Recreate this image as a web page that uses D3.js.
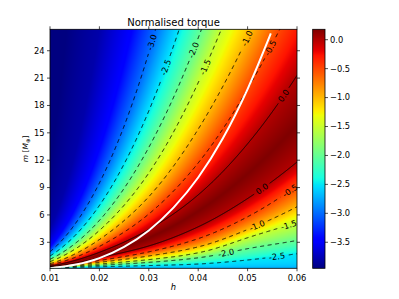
<!DOCTYPE html>
<html>
<head>
<meta charset="utf-8">
<script src="https://cdn.jsdelivr.net/npm/d3@7"></script>
<style>
  body { margin: 0; background: #fff; }
  text { font-family: "DejaVu Sans", sans-serif; }
</style>
</head>
<body>
<div id="plotContainer"></div>
<script>
const hCols = [0.01, 0.02, 0.03, 0.04, 0.05, 0.06];

// above the ridge: m [M_earth] at which torque passes each level
const upperLevels = [0.0, -0.5, -1.0, -1.5, -2.0, -2.5, -3.0, -3.5, -3.8, -3.95];
const upperM = [
  [0.40, 1.90, 4.40, 8.20, 13.8, 21.3],
  [0.52, 2.55, 6.10, 11.7, 19.8, 30.3],
  [0.66, 3.30, 8.00, 15.4, 25.5, 38.5],
  [0.88, 4.30, 10.6, 20.5, 34.0, 51.4],
  [1.14, 5.40, 13.4, 25.4, 41.8, 63.0],
  [1.50, 7.04, 17.4, 33.0, 54.3, 81.5],
  [1.97, 9.50, 23.8, 45.9, 76.0, 115],
  [2.60, 13.9, 37.2, 74.4, 127, 197],
  [4.50, 26.4, 74, 154, 270, 430],
  [12, 80, 230, 480, 850, 1350]
];

// below the ridge
const lowerLevels = [0.0, -0.5, -1.0, -1.5, -2.0, -2.5, -2.8];
const lowerM = [
  [0.30, 1.30, 2.60, 4.70, 7.80, 11.8],
  [0.27, 1.00, 1.95, 3.40, 5.80, 9.2],
  [0.245, 0.80, 1.50, 2.50, 4.40, 6.9],
  [0.22, 0.62, 1.10, 1.85, 3.50, 5.2],
  [0.20, 0.47, 0.80, 1.30, 2.30, 3.2],
  [0.18, 0.32, 0.45, 0.62, 1.06, 1.75],
  [0.15, 0.17, 0.13, 0.10, 0.10, 0.10]
];

// ridge of maximum torque
const ridgeM = [0.34, 1.60, 3.50, 6.40, 10.5, 15.9];
const ridgeT = [0.12, 0.18, 0.18, 0.18, 0.18, 0.18];

// white curve
const whiteH = [0.01, 0.015, 0.02, 0.025, 0.03, 0.035, 0.04, 0.045, 0.05, 0.0547];
const whiteM = [0.16, 0.53, 1.27, 2.5, 4.3, 6.8, 10.1, 14.4, 19.8, 25.9];

// drawn contours and where their labels sit (h)
const upperContours = [-3.0, -2.5, -2.0, -1.5, -1.0, -0.5, 0.0];
const upperLabelH = [0.03061, 0.03345, 0.03905, 0.04142, 0.04987, 0.05459, 0.05729];
const lowerContours = [-2.5, -2.0, -1.5, -1.0, -0.5, 0.0];
const lowerLabelH = [0.05595, 0.04567, 0.0583, 0.0519, 0.0586, 0.0529];

const xTicks = [0.01, 0.02, 0.03, 0.04, 0.05, 0.06];
const yTicks = [3, 6, 9, 12, 15, 18, 21, 24];
const cbTicks = [0.0, -0.5, -1.0, -1.5, -2.0, -2.5, -3.0, -3.5];
const vmin = -3.95, vmax = 0.18;

const W = 399, H = 299;
const plot = {left: 50, right: 297, top: 29.3, bottom: 268.3};

const svg = d3.select("#plotContainer").append("svg")
    .attr("width", W).attr("height", H);

const x = d3.scaleLinear().domain([0.01, 0.06]).range([plot.left, plot.right]);
const y = d3.scaleLinear().domain([0.15, 26.35]).range([plot.bottom, plot.top]);

// matplotlib jet
const jetR = d3.scaleLinear().domain([0, 0.35, 0.66, 0.89, 1]).range([0, 0, 1, 1, 0.5]).clamp(true);
const jetG = d3.scaleLinear().domain([0, 0.125, 0.375, 0.64, 0.91, 1]).range([0, 0, 1, 1, 0, 0]).clamp(true);
const jetB = d3.scaleLinear().domain([0, 0.11, 0.34, 0.65, 1]).range([0.5, 1, 1, 0, 0]).clamp(true);
const norm = d3.scaleLinear().domain([vmin, vmax]).range([0, 1]).clamp(true);
function jet(t) { return [jetR(t) * 255, jetG(t) * 255, jetB(t) * 255]; }

// smooth curve through the columns, in log-log space
function makeCurve(ms) {
  const xs = hCols.map(Math.log), ys = ms.map(Math.log), n = xs.length;
  const d = [];
  for (let i = 0; i < n - 1; i++) d.push((ys[i + 1] - ys[i]) / (xs[i + 1] - xs[i]));
  const tg = xs.map((_, i) => i === 0 ? d[0] : i === n - 1 ? d[n - 2] : (d[i - 1] + d[i]) / 2);
  return function(h) {
    const xv = Math.log(h);
    let i = d3.bisectRight(xs, xv) - 1;
    i = Math.max(0, Math.min(n - 2, i));
    const dx = xs[i + 1] - xs[i], t = (xv - xs[i]) / dx, t2 = t * t, t3 = t2 * t;
    return Math.exp((2 * t3 - 3 * t2 + 1) * ys[i] + (t3 - 2 * t2 + t) * dx * tg[i]
      + (-2 * t3 + 3 * t2) * ys[i + 1] + (t3 - t2) * dx * tg[i + 1]);
  };
}
const upperCurves = upperM.map(makeCurve);
const lowerCurves = lowerM.map(makeCurve);
const ridgeCurve = makeCurve(ridgeM);
const ridgeVal = d3.scaleLinear().domain(hCols).range(ridgeT);

function knotsAt(h) {
  const k = [];
  for (let i = lowerLevels.length - 1; i >= 0; i--) k.push([lowerCurves[i](h), lowerLevels[i]]);
  k.push([ridgeCurve(h), ridgeVal(h)]);
  upperLevels.forEach((t, i) => k.push([upperCurves[i](h), t]));
  for (let i = 1; i < k.length; i++) k[i][0] = Math.max(k[i][0], k[i - 1][0] * 1.0001);
  return k.map(d => [Math.log(d[0]), d[1]]);
}
function valueAt(k, m) {
  const lm = Math.log(m);
  if (lm <= k[0][0]) return k[0][1];
  for (let i = 1; i < k.length; i++) {
    if (lm <= k[i][0]) {
      const f = (lm - k[i - 1][0]) / (k[i][0] - k[i - 1][0]);
      return k[i - 1][1] + f * (k[i][1] - k[i - 1][1]);
    }
  }
  return k[k.length - 1][1];
}

// heat map
const pw = Math.round(plot.right - plot.left), ph = Math.round(plot.bottom - plot.top);
const canvas = document.createElement("canvas");
canvas.width = pw; canvas.height = ph;
const ctx = canvas.getContext("2d");
const img = ctx.createImageData(pw, ph);
for (let px = 0; px < pw; px++) {
  const h = x.invert(plot.left + px + 0.5);
  const k = knotsAt(h);
  for (let py = 0; py < ph; py++) {
    const m = y.invert(plot.top + py + 0.5);
    const c = jet(norm(valueAt(k, m)));
    const o = (py * pw + px) * 4;
    img.data[o] = c[0]; img.data[o + 1] = c[1]; img.data[o + 2] = c[2]; img.data[o + 3] = 255;
  }
}
ctx.putImageData(img, 0, 0);
svg.append("image")
    .attr("x", plot.left).attr("y", plot.top)
    .attr("width", pw).attr("height", ph)
    .attr("preserveAspectRatio", "none")
    .attr("href", canvas.toDataURL());

svg.append("clipPath").attr("id", "clip")
  .append("rect")
    .attr("x", plot.left).attr("y", plot.top)
    .attr("width", plot.right - plot.left).attr("height", plot.bottom - plot.top);

const gLines = svg.append("g").attr("clip-path", "url(#clip)");
const gLabels = svg.append("g");

function drawContour(curve, level, labelH) {
  const pts = d3.range(0, 1201).map(i => {
    const h = 0.01 + 0.05 * i / 1200;
    return [x(h), y(curve(h))];
  }).filter(p => p[1] > plot.top - 40);
  const lp = [x(labelH), y(curve(labelH))];
  const hx = x(labelH + 0.0004) - x(labelH - 0.0004);
  const hy = y(curve(labelH + 0.0004)) - y(curve(labelH - 0.0004));
  let ang = Math.atan2(hy, hx) * 180 / Math.PI;
  if (ang > 90) ang -= 180;
  if (ang < -90) ang += 180;
  const txt = level.toFixed(1);
  const gap = txt.length * 2.3 + 2.5;
  // split line where the label sits
  const segs = [[]];
  pts.forEach(p => {
    if (Math.hypot(p[0] - lp[0], p[1] - lp[1]) < gap) {
      if (segs[segs.length - 1].length) segs.push([]);
    } else segs[segs.length - 1].push(p);
  });
  segs.filter(s => s.length > 1).forEach(s => {
    gLines.append("path")
        .attr("d", d3.line()(s))
        .attr("fill", "none")
        .attr("stroke", "#000")
        .attr("stroke-width", 0.9)
        .attr("stroke-dasharray", level < 0 ? "4,3.6" : null);
  });
  gLabels.append("text")
      .attr("transform", `translate(${lp[0]},${lp[1]}) rotate(${ang})`)
      .attr("text-anchor", "middle")
      .attr("dy", "0.35em")
      .attr("font-size", 8.3)
      .text(txt);
}

upperContours.forEach((lv, i) => {
  drawContour(upperCurves[upperLevels.indexOf(lv)], lv, upperLabelH[i]);
});
lowerContours.forEach((lv, i) => {
  drawContour(lowerCurves[lowerLevels.indexOf(lv)], lv, lowerLabelH[i]);
});

// white curve
gLines.append("path")
    .datum(whiteH.map((h, i) => [h, whiteM[i]]))
    .attr("d", d3.line().x(d => x(d[0])).y(d => y(d[1])).curve(d3.curveMonotoneX))
    .attr("fill", "none")
    .attr("stroke", "#fff")
    .attr("stroke-width", 2);

// axes frame and ticks
svg.append("rect")
    .attr("x", plot.left).attr("y", plot.top)
    .attr("width", plot.right - plot.left).attr("height", plot.bottom - plot.top)
    .attr("fill", "none").attr("stroke", "#000").attr("stroke-width", 0.8);

const tl = 3;
xTicks.forEach(t => {
  svg.append("line").attr("x1", x(t)).attr("x2", x(t))
      .attr("y1", plot.bottom).attr("y2", plot.bottom + tl).attr("stroke", "#000").attr("stroke-width", 0.7);
  svg.append("line").attr("x1", x(t)).attr("x2", x(t))
      .attr("y1", plot.top).attr("y2", plot.top - tl).attr("stroke", "#000").attr("stroke-width", 0.7);
  svg.append("text").attr("x", x(t)).attr("y", plot.bottom + 12.5)
      .attr("text-anchor", "middle").attr("font-size", 8.3)
      .text(d3.format(".2f")(t));
});
yTicks.forEach(t => {
  svg.append("line").attr("y1", y(t)).attr("y2", y(t))
      .attr("x1", plot.left).attr("x2", plot.left - tl).attr("stroke", "#000").attr("stroke-width", 0.7);
  svg.append("line").attr("y1", y(t)).attr("y2", y(t))
      .attr("x1", plot.right).attr("x2", plot.right + tl).attr("stroke", "#000").attr("stroke-width", 0.7);
  svg.append("text").attr("x", plot.left - 5.5).attr("y", y(t)).attr("dy", "0.35em")
      .attr("text-anchor", "end").attr("font-size", 8.3)
      .text(t);
});

svg.append("text")
    .attr("x", (plot.left + plot.right) / 2).attr("y", 26)
    .attr("text-anchor", "middle").attr("font-size", 10)
    .text("Normalised torque");

svg.append("text")
    .attr("x", (plot.left + plot.right) / 2).attr("y", 290)
    .attr("text-anchor", "middle").attr("font-size", 8.3)
    .attr("font-family", "DejaVu Serif").attr("font-style", "italic")
    .text("h");

const yl = svg.append("text")
    .attr("transform", `translate(28,${(plot.top + plot.bottom) / 2}) rotate(-90)`)
    .attr("text-anchor", "middle").attr("font-size", 7.5)
    .attr("font-family", "DejaVu Serif");
yl.append("tspan").attr("font-style", "italic").text("m");
yl.append("tspan").text(" [");
yl.append("tspan").attr("font-style", "italic").text("M");
yl.append("tspan").attr("font-size", 5.5).attr("dy", 1.5).text("⊕");
yl.append("tspan").attr("dy", -1.5).text("]");

// colorbar
const cb = {left: 312.7, right: 325, top: 29.3, bottom: 268.3};
const cy = d3.scaleLinear().domain([vmin, vmax]).range([cb.bottom, cb.top]);
const grad = svg.append("defs").append("linearGradient")
    .attr("id", "jetgrad").attr("x1", 0).attr("y1", 1).attr("x2", 0).attr("y2", 0);
d3.range(0, 1.0001, 0.01).forEach(t => {
  const c = jet(t);
  grad.append("stop").attr("offset", t)
      .attr("stop-color", d3.rgb(c[0], c[1], c[2]).formatHex());
});
svg.append("rect")
    .attr("x", cb.left).attr("y", cb.top)
    .attr("width", cb.right - cb.left).attr("height", cb.bottom - cb.top)
    .attr("fill", "url(#jetgrad)")
    .attr("stroke", "#000").attr("stroke-width", 0.8);
cbTicks.forEach(t => {
  svg.append("line").attr("y1", cy(t)).attr("y2", cy(t))
      .attr("x1", cb.right).attr("x2", cb.right + tl).attr("stroke", "#000").attr("stroke-width", 0.7);
  svg.append("text").attr("x", cb.right + 5).attr("y", cy(t)).attr("dy", "0.35em")
      .attr("font-size", 8.3)
      .text(d3.format(".1f")(t));
});
</script>
</body>
</html>
